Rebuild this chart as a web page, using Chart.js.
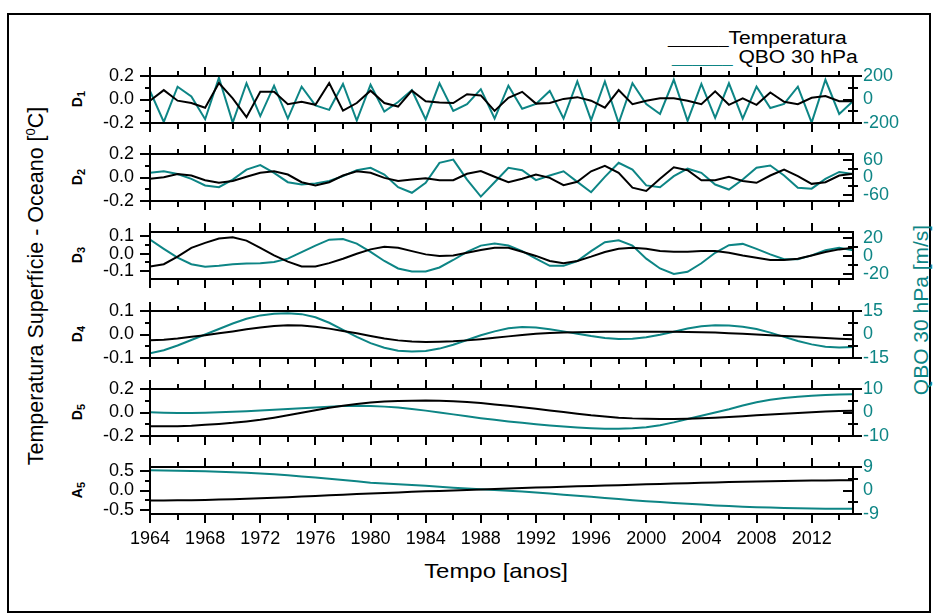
<!DOCTYPE html>
<html>
<head>
<meta charset="utf-8">
<script src="https://cdn.jsdelivr.net/npm/chart.js@4.4.1/dist/chart.umd.min.js"></script>
<style>
html,body{margin:0;padding:0;background:#fff;}
#wrap{position:relative;width:938px;height:613px;overflow:hidden;background:#fff;font-family:"Liberation Sans",Arial,sans-serif;color:#000;}
#frame{position:absolute;left:7px;top:13px;width:924px;height:600px;border:2px solid #000;box-sizing:border-box;}
canvas{position:absolute;left:0;}
.rot{position:absolute;white-space:nowrap;line-height:1;transform:translate(-50%,-50%) rotate(-90deg);}
.dl{font-weight:bold;font-size:14px;}
.dl sub{font-size:11px;vertical-align:-3px;}
.leg{position:absolute;white-space:nowrap;font-size:18px;line-height:18px;transform:scaleX(1.17);transform-origin:0 0;}
.leg .u{font-size:15.5px;}
</style>
</head>
<body>
<div id="wrap">
  <div id="frame"></div>
  <div class="leg" style="left:668px;top:29px;"><span class="u">______</span>Temperatura</div>
  <div class="leg" style="left:672px;top:48px;"><span class="u" style="color:#0d8585">______</span> QBO 30 hPa</div>
  <div class="rot dl" style="left:78px;top:99px;">D<sub>1</sub></div>
  <div class="rot dl" style="left:78px;top:177px;">D<sub>2</sub></div>
  <div class="rot dl" style="left:78px;top:255px;">D<sub>3</sub></div>
  <div class="rot dl" style="left:78px;top:334px;">D<sub>4</sub></div>
  <div class="rot dl" style="left:78px;top:412px;">D<sub>5</sub></div>
  <div class="rot dl" style="left:78px;top:490px;">A<sub>5</sub></div>
  <div class="rot" style="left:36px;top:286px;font-size:21.5px;">Temperatura Superfície - Oceano [<sup style="font-size:13px;">0</sup>C]</div>
  <div class="rot" style="left:920px;top:310px;font-size:21px;color:#0d8585;">QBO 30 hPa [m/s]</div>
  <div style="position:absolute;left:496px;top:560px;font-size:21px;line-height:21px;white-space:nowrap;transform:translateX(-50%) scaleX(1.14);">Tempo [anos]</div>
</div>
<script>
// ---------- data ----------
const years = [1964,1965,1966,1967,1968,1969,1970,1971,1972,1973,1974,1975,1976,1977,1978,1979,1980,1981,1982,1983,1984,1985,1986,1987,1988,1989,1990,1991,1992,1993,1994,1995,1996,1997,1998,1999,2000,2001,2002,2003,2004,2005,2006,2007,2008,2009,2010,2011,2012,2013,2014,2015];
const xLabelYears = [1964,1968,1972,1976,1980,1984,1988,1992,1996,2000,2004,2008,2012];
const xTickYears = [1964,1966,1968,1970,1972,1974,1976,1978,1980,1982,1984,1986,1988,1990,1992,1994,1996,1998,2000,2002,2004,2006,2008,2010,2012,2014];

const d1Temp = [-0.01,0.08,-0.01,-0.03,-0.07,0.14,0.01,-0.15,0.065,0.065,-0.04,-0.02,-0.045,0.14,-0.095,-0.03,0.075,-0.03,-0.06,0.075,-0.015,-0.025,-0.03,0.045,0.035,-0.097,0.015,0.065,-0.035,-0.03,0.005,0.02,-0.01,-0.07,0.08,-0.04,-0.01,0.01,0.01,-0.01,-0.04,0.07,-0.045,0.01,-0.045,0.06,-0.02,-0.04,0.015,0.03,-0.015,-0.015];
const d1Qbo = [73,-191,109,26,-168,185,-197,138,-141,118,-162,109,-50,-88,132,-179,126,-103,-21,79,-170,138,-97,-40,88,-162,118,-79,-38,73,-162,153,-176,153,-200,138,-38,-123,168,-182,132,-156,138,-162,109,-73,-38,109,-197,168,-123,-15];

const d2Temp = [-0.011,0.003,0.03,0.017,-0.023,-0.045,-0.03,0.006,0.04,0.053,0.025,-0.04,-0.068,-0.04,0.017,0.053,0.04,-0.003,-0.03,-0.017,-0.006,-0.023,-0.023,0.032,0.055,0.006,-0.04,-0.011,0.025,-0.003,-0.065,-0.037,0.053,0.1,0.04,-0.087,-0.115,-0.011,0.087,0.062,-0.023,-0.023,0.006,-0.03,-0.045,0.017,0.068,0.011,-0.054,-0.04,0.017,0.031];
const d2Qbo = [16,21,12,-4.5,-27,-33,-7,27,42,16,-16,-24,-20,-12,4.5,25,33,10,-33,-52,-18,50,61,-7,-65,-16,33,25,-9,7,21,-15,-50,2,50,27,-27,-33,4.5,30,16,-24,-41,-7,33,41,7,-35,-38,-4.5,19,12];

const d3Temp = [-0.074,-0.061,-0.017,0.034,0.063,0.088,0.095,0.076,0.034,-0.01,-0.046,-0.074,-0.074,-0.055,-0.029,0,0.025,0.04,0.034,0.015,-0.004,-0.013,-0.01,0.006,0.021,0.034,0.034,0.011,-0.013,-0.042,-0.055,-0.042,-0.017,0.01,0.029,0.034,0.029,0.015,0.011,0.011,0.015,0.015,0.006,-0.01,-0.023,-0.036,-0.036,-0.029,-0.01,0.01,0.025,0.034];
const d3Qbo = [18.2,8,-1.8,-9.1,-12,-10.9,-9.1,-8.4,-8,-6.5,-2.9,4.4,11.6,18.2,18.9,13.8,4.7,-5.5,-13.8,-17.1,-17.1,-12.7,-4.4,4.7,11.6,13.8,11.6,5.5,-2.9,-10.9,-10.9,-5.5,5.5,15.3,17.5,11.6,-2.9,-13.8,-20,-17.5,-8,3.6,12,13.5,8,1.8,-3.6,-3.6,0.7,6.5,9.1,6.5];

const d4Temp = [-0.024,-0.022,-0.017,-0.010,-0.003,0.005,0.013,0.022,0.030,0.036,0.039,0.038,0.033,0.025,0.015,0.005,-0.006,-0.017,-0.025,-0.030,-0.032,-0.031,-0.029,-0.025,-0.020,-0.014,-0.008,-0.002,0.003,0.006,0.009,0.010,0.011,0.012,0.012,0.012,0.012,0.012,0.012,0.011,0.010,0.008,0.005,0.003,0.000,-0.003,-0.006,-0.009,-0.012,-0.015,-0.018,-0.020];
const d4Qbo = [-12,-10,-7,-3.5,0,3.5,7,10,12.2,13.3,13.6,13,11,7.5,3,-1.5,-5.5,-8.5,-10.3,-10.9,-10.5,-9,-6.5,-3.5,-0.5,2,4,4.8,4.5,3.4,2.0,0.5,-1.0,-2.2,-2.9,-2.7,-1.8,-0.2,1.8,3.8,5.2,5.9,5.8,5.0,3.5,1.2,-1.5,-4.2,-6.3,-7.8,-8.3,-7.9];

const d5Temp = [-0.117,-0.117,-0.116,-0.112,-0.105,-0.097,-0.088,-0.076,-0.062,-0.044,-0.024,-0.003,0.019,0.04,0.058,0.073,0.085,0.093,0.098,0.101,0.102,0.1,0.096,0.089,0.08,0.069,0.057,0.045,0.032,0.018,0.004,-0.01,-0.024,-0.035,-0.044,-0.05,-0.053,-0.055,-0.055,-0.053,-0.049,-0.044,-0.038,-0.031,-0.024,-0.017,-0.01,-0.004,0.002,0.008,0.012,0.015];
const d5Qbo = [0.1,-0.1,-0.2,-0.2,-0.1,0.1,0.3,0.5,0.8,1.2,1.5,1.8,2.1,2.5,2.8,2.9,2.8,2.5,2.1,1.5,0.8,0.0,-0.8,-1.6,-2.4,-3.1,-3.8,-4.4,-5.0,-5.5,-6.0,-6.4,-6.7,-6.9,-6.9,-6.7,-6.3,-5.4,-4.2,-2.8,-1.4,0.0,1.4,3.0,4.4,5.4,6.2,6.7,7.1,7.4,7.7,7.8];

const a5Temp = [-0.256,-0.254,-0.250,-0.246,-0.240,-0.232,-0.222,-0.211,-0.198,-0.184,-0.170,-0.155,-0.140,-0.124,-0.108,-0.091,-0.074,-0.061,-0.048,-0.035,-0.022,-0.011,0.001,0.012,0.024,0.036,0.049,0.062,0.074,0.085,0.096,0.107,0.117,0.127,0.137,0.147,0.157,0.168,0.178,0.188,0.197,0.206,0.215,0.223,0.231,0.237,0.243,0.248,0.253,0.257,0.261,0.264];
const a5Qbo = [7.75,7.7,7.6,7.5,7.35,7.2,7.0,6.8,6.5,6.2,5.8,5.4,5.0,4.5,4.0,3.5,3.0,2.7,2.4,2.1,1.8,1.45,1.1,0.8,0.5,0.2,-0.1,-0.4,-0.75,-1.15,-1.6,-2.0,-2.4,-2.85,-3.3,-3.7,-4.1,-4.45,-4.8,-5.1,-5.4,-5.7,-5.95,-6.2,-6.4,-6.55,-6.7,-6.8,-6.9,-6.95,-7.0,-7.0];

// tick label values
const d1LeftTicks = [-0.2,0,0.2],  d1RightTicks = [-200,0,200];
const d2LeftTicks = [-0.2,0,0.2],  d2RightTicks = [-60,0,60];
const d3LeftTicks = [-0.1,0,0.1],  d3RightTicks = [-20,0,20];
const d4LeftTicks = [-0.1,0,0.1],  d4RightTicks = [-15,0,15];
const d5LeftTicks = [-0.2,0,0.2],  d5RightTicks = [-10,0,10];
const a5LeftTicks = [-0.5,0,0.5],  a5RightTicks = [-9,0,9];
const d1LeftMinor = [-0.1,0.1],    d1RightMinor = [-100,100];
const d2LeftMinor = [-0.1,0.1],    d2RightMinor = [-30,30];
const d3LeftMinor = [-0.05,0.05],  d3RightMinor = [-10,10];
const d4LeftMinor = [-0.05,0.05],  d4RightMinor = [-7.5,7.5];
const d5LeftMinor = [-0.1,0.1],    d5RightMinor = [-5,5];
const a5LeftMinor = [-0.25,0.25],  a5RightMinor = [-4.5,4.5];

// ---------- layout / style ----------
const TEAL = '#0d8585';
const FONT = '"Liberation Sans", Arial, sans-serif';
const PH = 47;      // panel (chart area) height
const PAD = 14;     // room above/below each panel
const panels = [
  {top:76,  t:d1Temp, q:d1Qbo, lr:[-0.2,0.2],   rr:[-200,200], lt:d1LeftTicks, rt:d1RightTicks, lm:d1LeftMinor, rm:d1RightMinor},
  {top:154, t:d2Temp, q:d2Qbo, lr:[-0.2,0.2],   rr:[-80,80],   lt:d2LeftTicks, rt:d2RightTicks, lm:d2LeftMinor, rm:d2RightMinor},
  {top:232, t:d3Temp, q:d3Qbo, lr:[-0.147,0.126], rr:[-25.5,26.7], lt:d3LeftTicks, rt:d3RightTicks, lm:d3LeftMinor, rm:d3RightMinor},
  {top:311, t:d4Temp, q:d4Qbo, lr:[-0.1,0.1],   rr:[-15,15],   lt:d4LeftTicks, rt:d4RightTicks, lm:d4LeftMinor, rm:d4RightMinor},
  {top:389, t:d5Temp, q:d5Qbo, lr:[-0.2,0.2],   rr:[-10,10],   lt:d5LeftTicks, rt:d5RightTicks, lm:d5LeftMinor, rm:d5RightMinor},
  {top:467, t:a5Temp, q:a5Qbo, lr:[-0.6,0.6],   rr:[-9,9],     lt:a5LeftTicks, rt:a5RightTicks, lm:a5LeftMinor, rm:a5RightMinor}
];

function ticksPlugin(p){
  return {
    id:'panelTicks',
    afterDraw(chart){
      const ctx = chart.ctx, a = chart.chartArea;
      const x = chart.scales.x, yL = chart.scales.yL, yR = chart.scales.yR;
      ctx.save();
      ctx.strokeStyle = '#000';
      ctx.lineWidth = 2;
      ctx.beginPath();
      xTickYears.forEach(v => {
        const px = Math.round(x.getPixelForValue(v));
        const major = (v - 1964) % 4 === 0;
        ctx.moveTo(px, a.top);    ctx.lineTo(px, a.top - (major ? 9 : 5));
        ctx.moveTo(px, a.bottom); ctx.lineTo(px, a.bottom + (major ? 9 : 6));
      });
      p.lt.forEach(v => { const py = Math.round(yL.getPixelForValue(v)); ctx.moveTo(a.left, py); ctx.lineTo(a.left - 10, py); });
      p.lm.forEach(v => { const py = Math.round(yL.getPixelForValue(v)); ctx.moveTo(a.left, py); ctx.lineTo(a.left - 5, py); });
      p.rt.forEach(v => {
        const py = Math.round(yR.getPixelForValue(v));
        if (Math.abs(py - a.top) < 3 || Math.abs(py - a.bottom) < 3) { ctx.moveTo(a.right, py); ctx.lineTo(a.right + 9, py); }
        else { ctx.moveTo(a.right, py); ctx.lineTo(a.right - 10, py); }
      });
      p.rm.forEach(v => { const py = Math.round(yR.getPixelForValue(v)); ctx.moveTo(a.right - 5, py); ctx.lineTo(a.right + 5, py); });
      ctx.stroke();
      ctx.strokeRect(a.left, a.top, a.right - a.left, a.bottom - a.top);
      ctx.restore();
    }
  };
}

function fixY(width){
  return s => { s.width = width; s.paddingTop = PAD; s.paddingBottom = PAD; };
}

const wrap = document.getElementById('wrap');
panels.forEach((p, k) => {
  const last = k === panels.length - 1;
  const XH = 50;
  const H = last ? PAD + PH + XH : PAD + PH + PAD;
  const cv = document.createElement('canvas');
  cv.width = 938; cv.height = H;
  cv.style.width = '938px'; cv.style.height = H + 'px';
  cv.style.top = (p.top - PAD) + 'px';
  wrap.appendChild(cv);
  const xScale = {
    type:'linear', min:1964, max:2015, display:last,
    grid:{display:false, drawTicks:false}, border:{display:false},
    afterBuildTicks: s => { s.ticks = xLabelYears.map(v => ({value:v})); },
    ticks:{autoSkip:false, maxRotation:0, minRotation:0, padding:14, color:'#000', font:{family:FONT, size:18}, callback: v => String(v)}
  };
  if (last) xScale.afterFit = s => { s.height = XH; s.paddingLeft = 0; s.paddingRight = 0; };
  new Chart(cv, {
    type:'line',
    data:{datasets:[
      {data: years.map((y,i) => ({x:y, y:p.t[i]})), borderColor:'#000', borderWidth:2, pointRadius:0, yAxisID:'yL', tension:0, fill:false},
      {data: years.map((y,i) => ({x:y, y:p.q[i]})), borderColor:TEAL, borderWidth:2, pointRadius:0, yAxisID:'yR', tension:0, fill:false}
    ]},
    options:{
      responsive:false, animation:false, devicePixelRatio:1, events:[],
      layout:{padding:0},
      plugins:{legend:{display:false}, tooltip:{enabled:false}},
      scales:{
        x: xScale,
        yL:{type:'linear', position:'left', min:p.lr[0], max:p.lr[1],
            grid:{display:false, drawTicks:false}, border:{display:false},
            afterBuildTicks: s => { s.ticks = p.lt.map(v => ({value:v})); },
            afterFit: fixY(150),
            ticks:{autoSkip:false, padding:16, color:'#000', font:{family:FONT, size:18}, callback: v => v.toFixed(1)}},
        yR:{type:'linear', position:'right', min:p.rr[0], max:p.rr[1],
            grid:{display:false, drawTicks:false}, border:{display:false},
            afterBuildTicks: s => { s.ticks = p.rt.map(v => ({value:v})); },
            afterFit: fixY(85),
            ticks:{autoSkip:false, padding:10, color:TEAL, font:{family:FONT, size:18}, callback: v => String(v)}}
      }
    },
    plugins:[ticksPlugin(p)]
  });
});
</script>
</body>
</html>
